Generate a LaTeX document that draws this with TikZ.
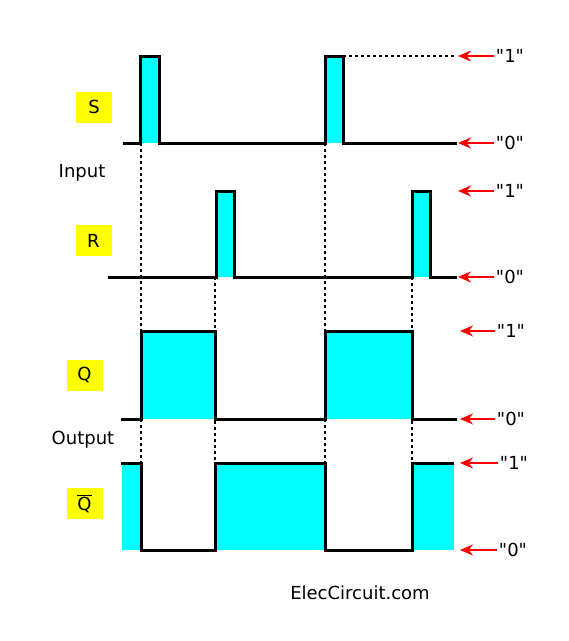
\documentclass[tikz,border=0pt]{standalone}
\usepackage{fontspec}
\setmainfont[Ligatures=TeXOff]{DejaVu Sans}
\usepackage{tikz}
\usetikzlibrary{arrows.meta,positioning}
\definecolor{pulse}{RGB}{0,255,255}
\definecolor{tagbg}{RGB}{255,255,0}
\tikzstyle{sig}=[
line width=3pt,
line join=miter
]
\tikzstyle{guide}=[
line width=1.3pt,
dash pattern=on 3pt off 3pt
]
\tikzstyle{tag}=[
fill=tagbg,
minimum width=36pt,
minimum height=31pt,
inner sep=0pt,
font=\fontsize{18}{21}\selectfont
]
\tikzstyle{lvl}=[
inner sep=0pt,
font=\fontsize{18}{21}\selectfont
]
\tikzstyle{arrow}=[
red,
line width=2pt,
-{Stealth[length=13pt,width=11pt]}
]

\begin{document}
\begin{tikzpicture}[x=1pt,y=-1pt]
\useasboundingbox (0,0) rectangle (569,641);

% pulses
\fill[pulse] (140,56) rectangle (159,143);
\fill[pulse] (325,56) rectangle (343,143);
\fill[pulse] (216,191) rectangle (234,277);
\fill[pulse] (412,191) rectangle (430,277);
\fill[pulse] (141,331) rectangle (215,419);
\fill[pulse] (325,331) rectangle (412,419);
\fill[pulse] (122,463) rectangle (141,550);
\fill[pulse] (215,463) rectangle (325,550);
\fill[pulse] (412,463) rectangle (454,550);

% guides
\foreach \x/\t in {141/143, 215/277, 325/143, 412/277}
  \draw[guide] (\x,\t) -- (\x,463);
\draw[guide] (343,56) -- (457,56);

% waveforms
\draw[sig] (123,143) -- (140,143) -- (140,56) -- (159,56) -- (159,143) -- (325,143) -- (325,56) -- (343,56) -- (343,143) -- (457,143);
\draw[sig] (108,277) -- (216,277) -- (216,191) -- (234,191) -- (234,277) -- (412,277) -- (412,191) -- (430,191) -- (430,277) -- (457,277);
\draw[sig] (121,419) -- (141,419) -- (141,331) -- (215,331) -- (215,419) -- (325,419) -- (325,331) -- (412,331) -- (412,419) -- (457,419);
\draw[sig] (121,463) -- (141,463) -- (141,550) -- (215,550) -- (215,463) -- (325,463) -- (325,550) -- (412,550) -- (412,463) -- (454,463);

\node (stag) [tag] at (94,107) {S};
\node (rtag) [tag] at (93.5,240.5) {R};
\node (qtag) [tag] at (84.5,375) {Q};
\node (qbtag) [tag] at (84.5,503.5) {$\overline{\mbox{Q}}$};

\node (input) [lvl] at (82,173) {Input};
\node (output) [lvl] at (83,440) {Output};
\node (site) [lvl] at (360,593) {ElecCircuit.com};

% level markers
\foreach \y/\v/\x/\t [count=\i] in {56/1/510/458, 143/0/510/458, 191/1/510/458, 277/0/510/458, 331/1/511/460, 419/0/511/460, 463/1/514/460, 550/0/513/460} {
  \node (lvl\i) [lvl] at (\x,\y) {"\v"};
  \coordinate (tip\i) at (\t,\y);
  \draw [arrow] ([xshift=-2pt]lvl\i.west) -- (tip\i);
}

\end{tikzpicture}
\end{document}
